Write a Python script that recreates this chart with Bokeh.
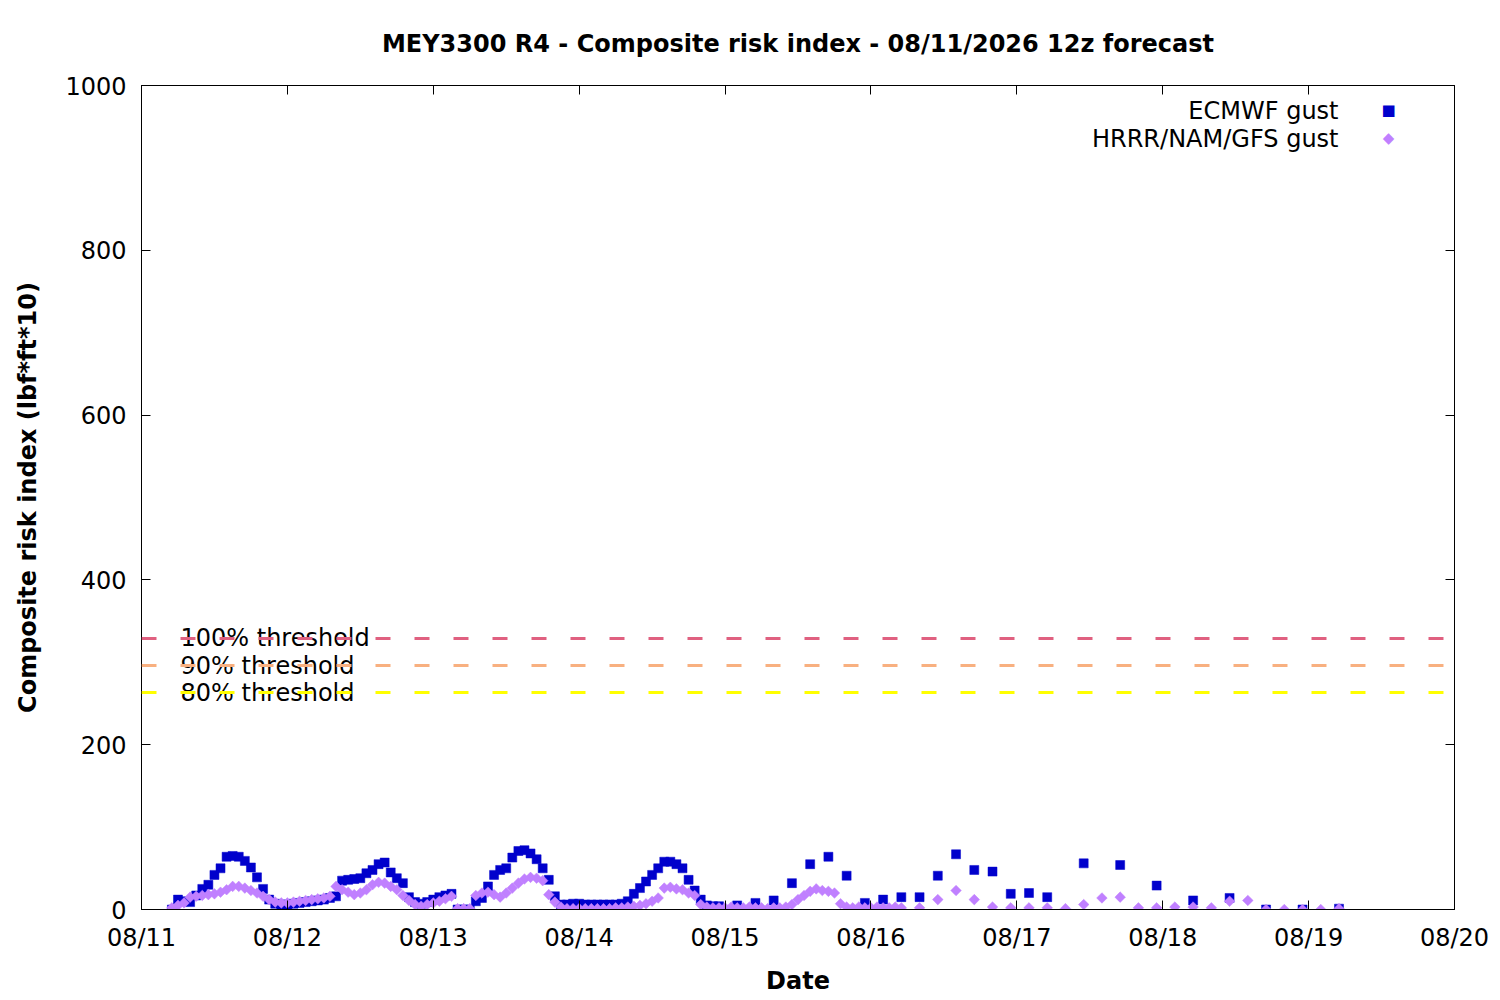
from bokeh.plotting import figure
from bokeh.models import (FixedTicker, LinearAxis, Span, Label, Range1d,
                          CustomJSTickFormatter)
from bokeh.embed import file_html
from bokeh.resources import INLINE

TITLE = "MEY3300 R4 - Composite risk index - 08/11/2026 12z forecast"
X_LABEL = "Date"
Y_LABEL = "Composite risk index (lbf*ft*10)"

# x axis: hours since 08/11 00:00 (local)
DAY_TICKS = [0, 24, 48, 72, 96, 120, 144, 168, 192, 216]
DAY_LABELS = ["08/11", "08/12", "08/13", "08/14", "08/15",
              "08/16", "08/17", "08/18", "08/19", "08/20"]
Y_TICKS = [0, 200, 400, 600, 800, 1000]

THRESHOLD = 329
THRESH_LEVELS = [1.0, 0.9, 0.8]
THRESH_NAMES = ["100% threshold", "90% threshold", "80% threshold"]
THRESH_COLORS = ["#e06080", "#f8b080", "#ffff00"]

SERIES_NAMES = ["ECMWF gust", "HRRR/NAM/GFS gust"]
SERIES_COLORS = ["#0000cc", "#c080ff"]
SERIES_SYMBOLS = ["\u25a0", "\u25c6"]

ec_hours = [
    5, 6, 7, 8, 9, 10, 11, 12, 13, 14,
    15, 16, 17, 18, 19, 20, 21, 22, 23, 24,
    25, 26, 27, 28, 29, 30, 31, 32, 33, 34,
    35, 36, 37, 38, 39, 40, 41, 42, 43, 44,
    45, 46, 47, 48, 49, 50, 51, 52, 53, 54,
    55, 56, 57, 58, 59, 60, 61, 62, 63, 64,
    65, 66, 67, 68, 69, 70, 71, 72, 73, 74,
    75, 76, 77, 78, 79, 80, 81, 82, 83, 84,
    85, 86, 87, 88, 89, 90, 91, 92, 93, 94,
    95,
    98, 101, 104, 107, 110, 113, 116, 119, 122, 125,
    128, 131, 134, 137, 140, 143, 146, 149,
    155, 161, 167, 173, 179, 185, 191, 197,
]
ec_vals = [
    0, 12, 10, 9, 17, 25, 30, 42, 50, 64,
    65, 64, 59, 51, 39, 25, 12, 7, 6, 6,
    7, 8, 9, 10, 11, 12, 14, 16, 35, 36,
    37, 38, 44, 48, 55, 57, 45, 38, 32, 15,
    9, 7, 9, 12, 15, 17, 19, 0, 0, 0,
    10, 14, 28, 42, 48, 50, 63, 71, 72, 68,
    61, 50, 36, 16, 6, 6, 7, 7, 6, 6,
    6, 6, 6, 6, 7, 10, 19, 26, 34, 42,
    50, 58, 58, 55, 50, 36, 23, 12, 5, 4,
    4,
    5, 8, 11, 32, 55, 64, 41, 8, 12, 15,
    15, 41, 67, 48, 46, 19, 20, 15,
    56, 54, 29, 11, 14, 0, 0, 1,
]

hr_hours = [
    5, 6, 7, 8, 9, 10, 11, 12, 13, 14,
    15, 16, 17, 18, 19, 20, 21, 22, 23, 24,
    25, 26, 27, 28, 29, 30, 31, 32, 33, 34,
    35, 36, 37, 38, 39, 40, 41, 42, 43, 44,
    45, 46, 47, 48, 49, 50, 51, 52, 53, 54,
    55, 56, 57, 58, 59, 60, 61, 62, 63, 64,
    65, 66, 67, 68, 69, 70, 71, 72, 73, 74,
    75, 76, 77, 78, 79, 80, 81, 82, 83, 84,
    85, 86, 87, 88, 89, 90, 91, 92, 93, 94,
    95, 96, 97, 98, 99, 100, 101, 102, 103, 104,
    105, 106, 107, 108, 109, 110, 111, 112, 113, 114,
    115, 116, 117, 118, 119, 120, 121, 122, 123, 124,
    125,
    128, 131, 134, 137, 140, 143, 146, 149, 152, 155,
    158, 161, 164, 167, 170, 173, 176, 179, 182, 185,
    188, 191, 194, 197,
]
hr_vals = [
    2, 5, 8, 15, 16, 17, 18, 19, 21, 24,
    28, 28, 26, 23, 20, 16, 12, 9, 8, 8,
    9, 10, 11, 12, 13, 14, 16, 28, 24, 21,
    18, 20, 24, 30, 33, 32, 28, 24, 17, 11,
    6, 4, 6, 8, 10, 13, 16, 1, 1, 1,
    17, 20, 21, 18, 15, 20, 26, 32, 37, 39,
    38, 35, 18, 9, 3, 1, 1, 1, 1, 1,
    1, 1, 1, 2, 2, 3, 4, 5, 7, 10,
    14, 26, 27, 25, 24, 20, 17, 6, 3, 2,
    2, 2, 3, 2, 2, 3, 2, 2, 1, 2,
    2, 3, 6, 12, 17, 22, 25, 23, 22, 20,
    7, 3, 2, 3, 2, 2, 3, 2, 2, 3,
    2,
    2, 12, 23, 12, 3, 2, 2, 2, 1, 6,
    14, 15, 2, 2, 3, 3, 2, 10, 11, 0,
    0, 0, 0, 1,
]

FONT = "DejaVu Sans"
FS = "24px"

p = figure(width=1492, height=997, output_backend="svg", toolbar_location=None,
           x_range=Range1d(DAY_TICKS[0], DAY_TICKS[-1]),
           y_range=Range1d(Y_TICKS[0], Y_TICKS[-1]),
           min_border_left=141, min_border_right=38,
           min_border_top=85, min_border_bottom=87)
p.xgrid.visible = False
p.ygrid.visible = False
p.outline_line_color = "black"
p.outline_line_width = 1
p.background_fill_color = "white"

p.title.text = TITLE
p.title.align = "center"
p.title.text_font = FONT
p.title.text_font_size = FS
p.title.text_font_style = "bold"
p.title.text_color = "black"
p.title.standoff = 55

label_map = {t: l for t, l in zip(DAY_TICKS, DAY_LABELS)}
p.xaxis.ticker = FixedTicker(ticks=DAY_TICKS)
p.xaxis.major_label_overrides = label_map
p.yaxis.ticker = FixedTicker(ticks=Y_TICKS)
p.xaxis.axis_label = X_LABEL
p.yaxis.axis_label = Y_LABEL

for ax in (p.xaxis[0], p.yaxis[0]):
    ax.major_tick_in = 9
    ax.major_tick_out = 0
    ax.minor_tick_line_color = None
    ax.axis_line_color = "black"
    ax.major_tick_line_color = "black"
    ax.major_label_text_font = FONT
    ax.major_label_text_font_size = FS
    ax.major_label_text_color = "black"
    ax.axis_label_text_font = FONT
    ax.axis_label_text_font_size = FS
    ax.axis_label_text_font_style = "bold"
    ax.axis_label_text_color = "black"
p.yaxis.major_label_standoff = 15
p.yaxis.axis_label_standoff = 20
p.xaxis.major_label_standoff = 14
p.xaxis.axis_label_standoff = 12

blank = CustomJSTickFormatter(code="return '';")
top = LinearAxis(ticker=FixedTicker(ticks=DAY_TICKS), formatter=blank,
                 major_tick_in=9, major_tick_out=0, minor_tick_line_color=None,
                 major_label_text_font_size="10px", major_label_standoff=0,
                 axis_line_color="black")
right = LinearAxis(ticker=FixedTicker(ticks=Y_TICKS), formatter=blank,
                   major_tick_in=9, major_tick_out=0, minor_tick_line_color=None,
                   major_label_text_font_size="10px", major_label_standoff=0,
                   axis_line_color="black")
p.add_layout(top, "above")
p.add_layout(right, "right")

p.scatter(ec_hours, ec_vals, marker="square", size=9,
          fill_color=SERIES_COLORS[0], line_color=SERIES_COLORS[0],
          line_width=0.5)
p.scatter(hr_hours, hr_vals, marker="square", size=7.5, angle=0.785398,
          fill_color=SERIES_COLORS[1], line_color=SERIES_COLORS[1],
          line_width=0.5)

# threshold labels (text) then the dashed lines over them
for lvl, name in zip(THRESH_LEVELS, THRESH_NAMES):
    p.add_layout(Label(x=39, x_units="screen", y=THRESHOLD * lvl,
                       text=name, text_font=FONT, text_font_size=FS,
                       text_baseline="middle", text_align="left",
                       text_color="black"))
for lvl, col in zip(THRESH_LEVELS, THRESH_COLORS):
    p.add_layout(Span(location=THRESHOLD * lvl, dimension="width",
                      line_color=col, line_width=3, line_dash="15 24"))

# key: right-aligned names with symbol swatches to their right
for i, (name, sym, col) in enumerate(zip(SERIES_NAMES, SERIES_SYMBOLS,
                                         SERIES_COLORS)):
    p.add_layout(Label(x=1197, x_units="screen", y=799 - 28 * i,
                       y_units="screen", text=name, text_font=FONT,
                       text_font_size=FS, text_align="right",
                       text_baseline="middle", text_color="black"))
    p.add_layout(Label(x=1247, x_units="screen", y=800 - 28 * i,
                       y_units="screen", text=sym, text_font=FONT,
                       text_font_size="15px", text_align="center",
                       text_baseline="middle", text_color=col))

open("out.html", "w").write(file_html(p, INLINE))
